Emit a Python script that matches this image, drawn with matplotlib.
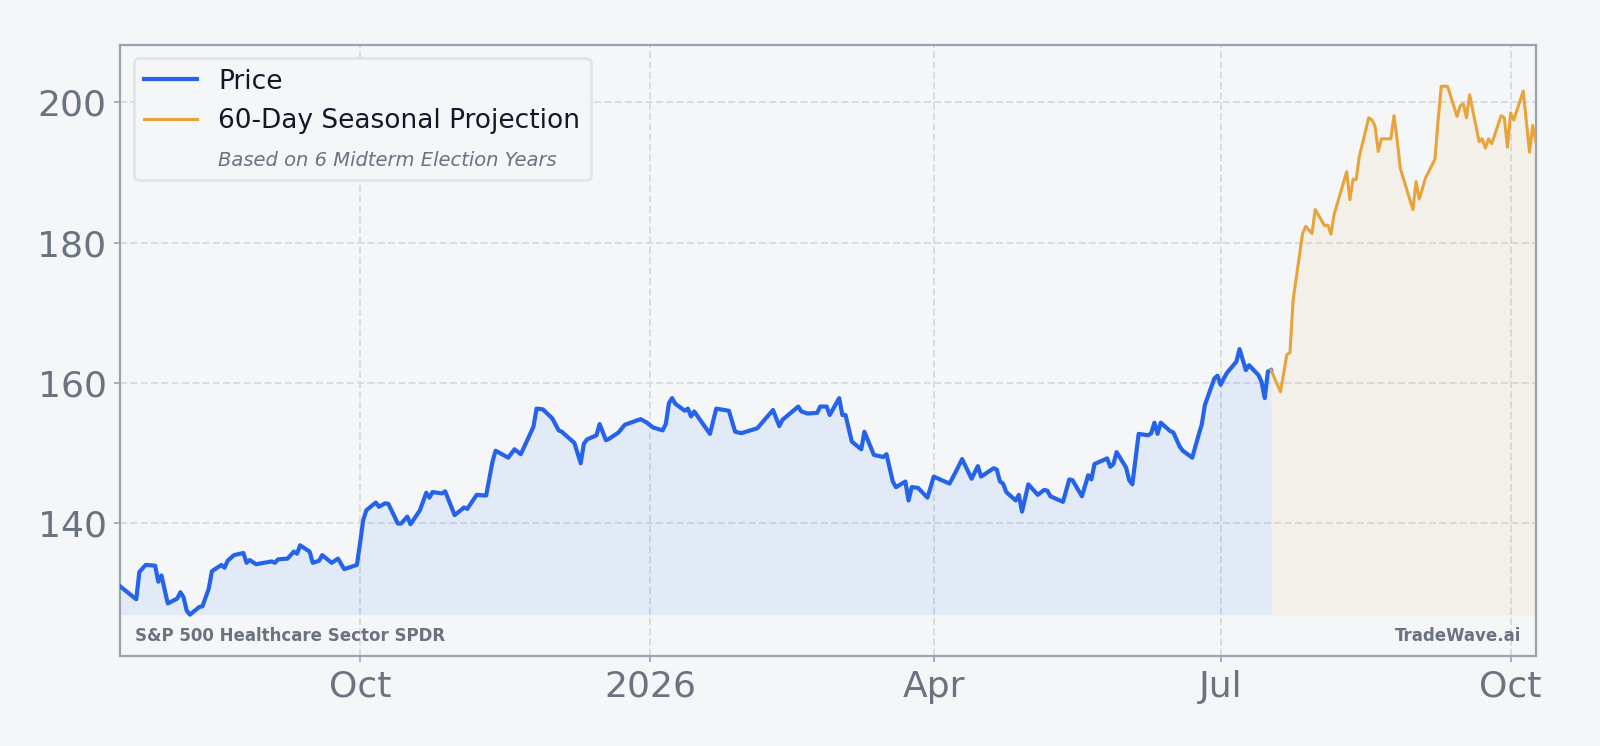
import matplotlib
matplotlib.use("Agg")
import matplotlib.pyplot as plt
import matplotlib.dates as mdates
from matplotlib.lines import Line2D
from matplotlib.ticker import MultipleLocator, FuncFormatter
import pandas as pd

# daily closes
price_dates = [
    "2025-07-17", "2025-07-22", "2025-07-23", "2025-07-25", "2025-07-28", "2025-07-29",
    "2025-07-30", "2025-08-01", "2025-08-04", "2025-08-05", "2025-08-06", "2025-08-07",
    "2025-08-08", "2025-08-11", "2025-08-12", "2025-08-14", "2025-08-15", "2025-08-18",
    "2025-08-19", "2025-08-20", "2025-08-22", "2025-08-25", "2025-08-26", "2025-08-27",
    "2025-08-29", "2025-09-03", "2025-09-04", "2025-09-05", "2025-09-08", "2025-09-10",
    "2025-09-11", "2025-09-12", "2025-09-15", "2025-09-16", "2025-09-18", "2025-09-19",
    "2025-09-22", "2025-09-24", "2025-09-26", "2025-09-30", "2025-10-01", "2025-10-02",
    "2025-10-03", "2025-10-06", "2025-10-07", "2025-10-09", "2025-10-10", "2025-10-13",
    "2025-10-14", "2025-10-16", "2025-10-17", "2025-10-20", "2025-10-22", "2025-10-23",
    "2025-10-24", "2025-10-27", "2025-10-28", "2025-10-31", "2025-11-03", "2025-11-04",
    "2025-11-07", "2025-11-10", "2025-11-12", "2025-11-13", "2025-11-17", "2025-11-19",
    "2025-11-21", "2025-11-25", "2025-11-26", "2025-11-28", "2025-12-01", "2025-12-03",
    "2025-12-04", "2025-12-08", "2025-12-10", "2025-12-11", "2025-12-12", "2025-12-15",
    "2025-12-16", "2025-12-18", "2025-12-19", "2025-12-22", "2025-12-24", "2025-12-29",
    "2025-12-31", "2026-01-02", "2026-01-05", "2026-01-06", "2026-01-07", "2026-01-08",
    "2026-01-09", "2026-01-12", "2026-01-13", "2026-01-14", "2026-01-15", "2026-01-20",
    "2026-01-22", "2026-01-26", "2026-01-28", "2026-01-30", "2026-02-04", "2026-02-09",
    "2026-02-11", "2026-02-12", "2026-02-17", "2026-02-18", "2026-02-20", "2026-02-23",
    "2026-02-24", "2026-02-26", "2026-02-27", "2026-03-02", "2026-03-03", "2026-03-04",
    "2026-03-06", "2026-03-09", "2026-03-10", "2026-03-13", "2026-03-16", "2026-03-17",
    "2026-03-19", "2026-03-20", "2026-03-23", "2026-03-24", "2026-03-25", "2026-03-27",
    "2026-03-30", "2026-04-01", "2026-04-06", "2026-04-08", "2026-04-10", "2026-04-13",
    "2026-04-15", "2026-04-16", "2026-04-20", "2026-04-21", "2026-04-22", "2026-04-23",
    "2026-04-24", "2026-04-27", "2026-04-28", "2026-04-29", "2026-05-01", "2026-05-04",
    "2026-05-06", "2026-05-07", "2026-05-08", "2026-05-12", "2026-05-14", "2026-05-15",
    "2026-05-18", "2026-05-20", "2026-05-21", "2026-05-22", "2026-05-26", "2026-05-27",
    "2026-05-28", "2026-05-29", "2026-06-01", "2026-06-02", "2026-06-03", "2026-06-05",
    "2026-06-08", "2026-06-09", "2026-06-10", "2026-06-11", "2026-06-12", "2026-06-15",
    "2026-06-16", "2026-06-18", "2026-06-19", "2026-06-22", "2026-06-24", "2026-06-25",
    "2026-06-26", "2026-06-29", "2026-06-30", "2026-07-01", "2026-07-02", "2026-07-03",
    "2026-07-06", "2026-07-07", "2026-07-09", "2026-07-10", "2026-07-13", "2026-07-14",
    "2026-07-15", "2026-07-16", "2026-07-17",
]
price_values = [
    130.9, 129.1, 133.0, 134.0, 133.9, 131.6,
    132.5, 128.5, 129.2, 130.1, 129.4, 127.5,
    126.9, 128.0, 128.1, 130.6, 133.1, 134.0,
    133.6, 134.6, 135.4, 135.7, 134.3, 134.7,
    134.1, 134.5, 134.3, 134.8, 134.9, 135.9,
    135.6, 136.8, 135.9, 134.3, 134.6, 135.4,
    134.3, 134.9, 133.4, 134.0, 137.1, 140.4,
    141.8, 142.9, 142.3, 142.8, 142.7, 139.9,
    139.9, 140.9, 139.8, 141.8, 144.3, 143.6,
    144.4, 144.2, 144.5, 141.1, 142.2, 142.0,
    144.0, 143.9, 148.7, 150.3, 149.3, 150.5,
    149.8, 153.7, 156.3, 156.2, 154.9, 153.2,
    153.0, 151.4, 148.5, 151.3, 151.9, 152.5,
    154.1, 151.8, 152.0, 152.9, 154.0, 154.8,
    154.3, 153.6, 153.2, 154.1, 157.1, 157.8,
    157.0, 156.0, 156.3, 155.2, 155.9, 152.7,
    156.3, 156.0, 153.0, 152.8, 153.5, 156.1,
    153.8, 154.7, 156.6, 155.9, 155.6, 155.7,
    156.6, 156.6, 155.4, 157.8, 155.4, 155.4,
    151.6, 150.5, 153.0, 149.7, 149.4, 149.8,
    145.9, 145.1, 145.9, 143.2, 145.1, 145.0,
    143.6, 146.6, 145.6, 147.3, 149.1, 146.3,
    148.1, 146.6, 147.8, 147.6, 145.9, 145.6,
    144.4, 143.2, 144.0, 141.6, 145.5, 144.0,
    144.7, 144.6, 143.8, 143.0, 146.2, 146.1,
    143.8, 146.8, 146.2, 148.4, 149.2, 148.0,
    148.4, 150.1, 147.9, 146.1, 145.5, 152.7,
    152.5, 152.8, 154.3, 152.7, 154.3, 153.1,
    152.9, 150.9, 150.3, 149.3, 152.5, 154.0,
    156.8, 160.6, 161.0, 159.7, 160.6, 161.4,
    163.0, 164.8, 161.8, 162.5, 161.1, 160.1,
    157.8, 161.6, 161.8,
]

# 60-day seasonal projection
proj_dates = [
    "2026-07-17", "2026-07-20", "2026-07-22", "2026-07-23", "2026-07-24", "2026-07-27",
    "2026-07-28", "2026-07-30", "2026-07-31", "2026-08-03", "2026-08-04", "2026-08-05",
    "2026-08-06", "2026-08-10", "2026-08-11", "2026-08-12", "2026-08-13", "2026-08-14",
    "2026-08-17", "2026-08-18", "2026-08-19", "2026-08-20", "2026-08-21", "2026-08-24",
    "2026-08-25", "2026-08-26", "2026-08-27", "2026-08-31", "2026-09-01", "2026-09-02",
    "2026-09-04", "2026-09-07", "2026-09-08", "2026-09-09", "2026-09-11", "2026-09-14",
    "2026-09-15", "2026-09-16", "2026-09-17", "2026-09-18", "2026-09-21", "2026-09-22",
    "2026-09-23", "2026-09-24", "2026-09-25", "2026-09-28", "2026-09-29", "2026-09-30",
    "2026-10-01", "2026-10-02", "2026-10-05", "2026-10-07", "2026-10-08", "2026-10-09",
]
proj_values = [
    161.8, 158.7, 164.0, 164.3, 171.8, 181.3,
    182.3, 181.3, 184.7, 182.4, 182.5, 181.2,
    184.0, 190.1, 186.1, 189.0, 189.0, 192.3,
    197.8, 197.5, 196.6, 193.0, 194.8, 194.8,
    198.1, 194.7, 190.6, 184.7, 188.7, 186.2,
    189.2, 191.9, 197.5, 202.3, 202.3, 198.0,
    199.5, 199.8, 197.8, 201.1, 194.4, 194.8,
    193.5, 194.8, 194.1, 198.1, 197.8, 193.6,
    198.5, 197.5, 201.6, 192.9, 196.7, 194.4,
]

price_dates = pd.to_datetime(price_dates)
proj_dates = pd.to_datetime(proj_dates)

BG = "#f5f6f8"
BLUE = "#2563eb"
ORANGE = "#e8a33a"
GREY = "#6b7280"

fig = plt.figure(figsize=(8, 3.73), dpi=200, facecolor=BG)
ax = fig.add_axes([0.0753, 0.1206, 0.8846, 0.8192])
ax.set_facecolor(BG)

base = min(min(price_values), min(proj_values))
ax.fill_between(price_dates, price_values, base, color="#3b82f6", alpha=0.1, lw=0)
ax.fill_between(proj_dates, proj_values, base, color=ORANGE, alpha=0.08, lw=0)
ax.plot(price_dates, price_values, color=BLUE, lw=1.5, zorder=3)
ax.plot(proj_dates, proj_values, color=ORANGE, lw=1.1, zorder=3)

ax.set_xlim(price_dates[0], proj_dates[-1])
ax.set_ylim(121.0, 208.2)

ax.xaxis.set_major_locator(mdates.MonthLocator(bymonth=[1, 4, 7, 10]))
def fmt(x, pos):
    d = mdates.num2date(x)
    return str(d.year) if d.month == 1 else d.strftime("%b")
ax.xaxis.set_major_formatter(FuncFormatter(fmt))
ax.yaxis.set_major_locator(MultipleLocator(20))

ax.grid(True, linestyle="--", color="#d8dde4", lw=0.7, zorder=0)
ax.set_axisbelow(True)
for s in ax.spines.values():
    s.set_color("#9ca3af")
    s.set_linewidth(0.8)
ax.tick_params(colors=GREY, labelsize=13, length=2, width=0.6, pad=3)
ax.tick_params(axis="both", color="#9ca3af")

handles = [Line2D([], [], color=BLUE, lw=1.5),
           Line2D([], [], color=ORANGE, lw=1.1),
           Line2D([], [], color="none")]
labels = ["Price", "60-Day Seasonal Projection", "Based on 6 Midterm Election Years"]
leg = ax.legend(handles, labels, loc="upper left", fontsize=9.5, frameon=True,
                facecolor=BG, edgecolor="#dfe2e7", framealpha=0.95, labelspacing=0.5)
for t in leg.get_texts()[:2]:
    t.set_color("#111827")
sub = leg.get_texts()[2]
sub.set_fontsize(7)
sub.set_style("italic")
sub.set_color(GREY)

ax.text(0.01, 0.025, "S&P 500 Healthcare Sector SPDR", transform=ax.transAxes,
        fontsize=6, fontweight="bold", color=GREY, va="baseline", ha="left")
ax.text(0.99, 0.025, "TradeWave.ai", transform=ax.transAxes,
        fontsize=6, fontweight="bold", color=GREY, va="baseline", ha="right")

fig.savefig("out.png", dpi=200, facecolor=BG)
